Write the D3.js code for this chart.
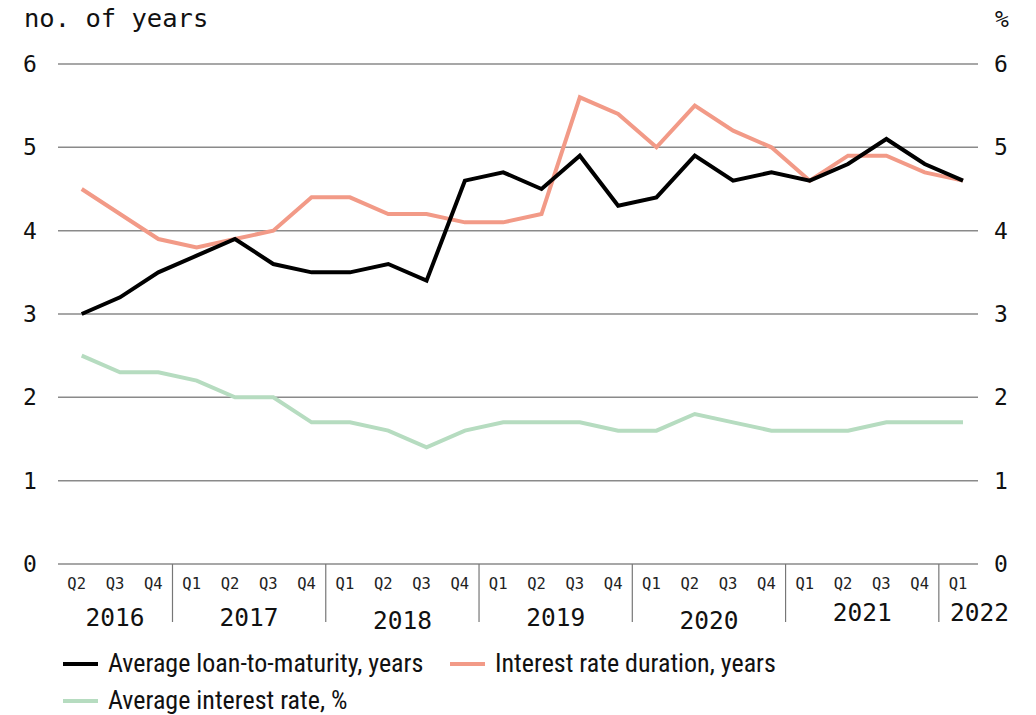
<!DOCTYPE html>
<html>
<head>
<meta charset="utf-8">
<script src="https://cdn.jsdelivr.net/npm/d3@7"></script>
<style>
  body{margin:0;background:#fff;}
  .mono{font-family:"DejaVu Sans Mono",monospace;}
  .leg{font-family:"Liberation Sans Narrow","Roboto Condensed",Roboto,sans-serif;}
</style>
</head>
<body>
<svg width="1036" height="715"></svg>
<script>
// quarters, 2016 Q2 .. 2022 Q1
var quarters = ["Q2","Q3","Q4","Q1","Q2","Q3","Q4","Q1","Q2","Q3","Q4","Q1","Q2","Q3","Q4","Q1","Q2","Q3","Q4","Q1","Q2","Q3","Q4","Q1"];
var quarterYears = [2016,2016,2016,2017,2017,2017,2017,2018,2018,2018,2018,2019,2019,2019,2019,2020,2020,2020,2020,2021,2021,2021,2021,2022];
var years = [2016,2017,2018,2019,2020,2021,2022];
var yTicks = [0,1,2,3,4,5,6];

var loanMaturity = [3.0,3.2,3.5,3.7,3.9,3.6,3.5,3.5,3.6,3.4,4.6,4.7,4.5,4.9,4.3,4.4,4.9,4.6,4.7,4.6,4.8,5.1,4.8,4.6];
var rateDuration = [4.5,4.2,3.9,3.8,3.9,4.0,4.4,4.4,4.2,4.2,4.1,4.1,4.2,5.6,5.4,5.0,5.5,5.2,5.0,4.6,4.9,4.9,4.7,4.6];
var interestRate = [2.5,2.3,2.3,2.2,2.0,2.0,1.7,1.7,1.6,1.4,1.6,1.7,1.7,1.7,1.6,1.6,1.8,1.7,1.6,1.6,1.6,1.7,1.7,1.7];

var seriesNames = ["Average loan-to-maturity, years","Interest rate duration, years","Average interest rate, %"];
var seriesColors = ["#000000","#f29a87","#b6dcc0"];

var svg = d3.select("svg");
var plot = {left:58, right:978, top:64, bottom:564};

var keys = quarters.map(function(q,i){return quarterYears[i]+q;});
var xScale = d3.scalePoint().domain(keys).range([81.7,963]);
var yScale = d3.scaleLinear().domain([0,6]).range([plot.bottom,plot.top]);

// gridlines
svg.append("g").selectAll("line").data(yTicks).enter().append("line")
   .attr("x1",plot.left).attr("x2",plot.right)
   .attr("y1",function(d){return yScale(d);})
   .attr("y2",function(d){return yScale(d);})
   .attr("stroke","#8a8a8a").attr("stroke-width",1.5);

// y labels left & right
svg.append("g").selectAll("text").data(yTicks).enter().append("text")
   .attr("class","mono").attr("x",30).attr("y",function(d){return yScale(d)+8;})
   .attr("text-anchor","middle").attr("font-size",23).attr("fill","#111")
   .text(function(d){return d;});
svg.append("g").selectAll("text").data(yTicks).enter().append("text")
   .attr("class","mono").attr("x",1001).attr("y",function(d){return yScale(d)+8;})
   .attr("text-anchor","middle").attr("font-size",23).attr("fill","#111")
   .text(function(d){return d;});

svg.append("text").attr("class","mono").attr("x",24).attr("y",27)
   .attr("font-size",25.5).attr("fill","#111").text("no. of years");
svg.append("text").attr("class","mono").attr("x",1002).attr("y",27)
   .attr("text-anchor","middle").attr("font-size",23).attr("fill","#111").text("%");

// category axis
var labOff = -5;
svg.append("g").selectAll("text").data(keys).enter().append("text")
   .attr("class","mono").attr("x",function(d){return xScale(d)+labOff;}).attr("y",589)
   .attr("text-anchor","middle").attr("font-size",15.5).attr("fill","#222")
   .text(function(d,i){return quarters[i];});

// year separators
var seps = [];
keys.forEach(function(k,i){ if(i>0 && quarters[i]==="Q1") seps.push((xScale(keys[i-1])+xScale(k))/2+labOff); });
svg.append("g").selectAll("line").data(seps).enter().append("line")
   .attr("x1",function(d){return d;}).attr("x2",function(d){return d;})
   .attr("y1",plot.bottom).attr("y2",622)
   .attr("stroke","#777").attr("stroke-width",1.2);

// year labels
var yearOffsetY = {2016:0,2017:0,2018:3,2019:0,2020:3,2021:-5,2022:-5};
svg.append("g").selectAll("text").data(years).enter().append("text")
   .attr("class","mono")
   .attr("x",function(y){
      var xs = keys.filter(function(k,i){return quarterYears[i]===y;}).map(function(k){return xScale(k)+labOff;});
      if(y===2022) return xs[0]-8;
      return d3.mean(xs);
   })
   .attr("y",function(y){return 626+yearOffsetY[y];})
   .attr("text-anchor",function(y){return y===2022?"start":"middle";})
   .attr("font-size",24.5).attr("fill","#111")
   .text(function(y){return y;});

// lines
var lineMaker = d3.line()
   .x(function(d,i){return xScale(keys[i]);})
   .y(function(d){return yScale(d);});
[interestRate, rateDuration, loanMaturity].forEach(function(s,j){
  var idx = 2-j;
  svg.append("path").attr("d",lineMaker(s))
     .attr("fill","none").attr("stroke",seriesColors[idx])
     .attr("stroke-width",4).attr("stroke-linejoin","miter");
});

// legend
var legPos = [[63,664],[450,664],[63,701]];
seriesNames.forEach(function(n,i){
  var g = svg.append("g").attr("transform","translate("+legPos[i][0]+","+legPos[i][1]+")");
  g.append("line").attr("x1",0).attr("x2",35).attr("y1",0).attr("y2",0)
   .attr("stroke",seriesColors[i]).attr("stroke-width",4);
  g.append("text").attr("class","leg").attr("x",45).attr("y",8)
   .attr("font-size",26).attr("fill","#111").text(n);
});
</script>
</body>
</html>
